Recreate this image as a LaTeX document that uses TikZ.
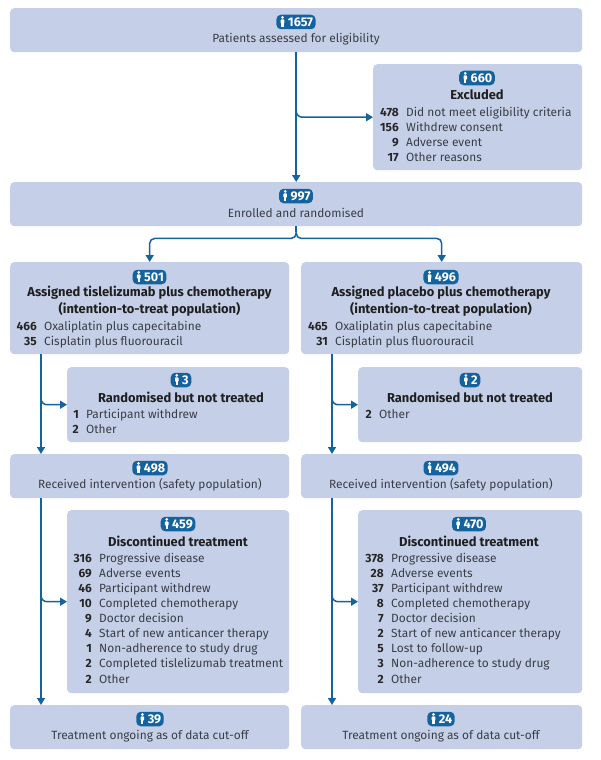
\documentclass[tikz,border=0pt]{standalone}
\usepackage{fontspec}
\setmainfont{Fira Sans}
\usetikzlibrary{arrows.meta,calc}
\definecolor{boxfill}{HTML}{C5D0E8}
\definecolor{navy}{HTML}{14639F}
\definecolor{ink}{HTML}{3A3D46}
\tikzset{
  bx/.style={fill=boxfill,rounded corners=4pt,inner sep=0pt,anchor=north west},
  badge/.style={fill=navy,text=white,rounded corners=4.5pt,font=\fontsize{12.6}{14}\selectfont\bfseries,inner xsep=2.5pt,inner ysep=0pt,minimum height=14.5pt},
  plain/.style={text=ink,font=\fontsize{11.9}{13}\selectfont,inner sep=0pt},
  head/.style={text=black!88,font=\fontsize{12.9}{14}\selectfont\bfseries,inner sep=0pt},
  numb/.style={text=black!85,font=\fontsize{11.9}{13}\selectfont\bfseries,inner sep=0pt},
  flow/.style={draw=navy,line width=1.5pt,-{Triangle[length=7pt,width=8pt]}},
  flowplain/.style={draw=navy,line width=1.5pt},
  person/.pic={\fill[white] (0,-4.6) circle (1.5);
    \fill[white,rounded corners=0.8pt] (-1.8,-2.6) rectangle (1.8,1.6);
    \fill[white] (-1.1,1) rectangle (1.1,5.2);}
}
% box: name, x1, y1, x2, y2
\newcommand{\bx}[5]{\node[bx,minimum width={(#4-#2)*1pt},minimum height={(#5-#3)*1pt}] (#1) at (#2,#3) {};}
% badge: name, cx, cy, number
\newcommand{\bdg}[4]{\node[badge] (#1) at (#2,#3) {\hspace{9pt}#4}; \pic at ($(#1.west)+(6.3,0)$) {person};}
% rows: name, number right edge, first y (centre), list
\newcommand{\rows}[4]{%
  \foreach \nn/\tt [count=\i from 0] in {#4} {
    \node[numb,anchor=base east] (#1n\i) at (#2,#3+15.1*\i+4.2) {\nn};
    \node[plain,anchor=base west] (#1t\i) at (#2+7,#3+15.1*\i+4.2) {\tt};
  }}
\begin{document}
\begin{tikzpicture}[x=1pt,y=-1pt]
\useasboundingbox (0,0) rectangle (600,760);
\fill[white] (0,0) rectangle (600,760);
% boxes
\bx{top}{10}{8}{582}{52}
\bx{excl}{373}{64}{582}{170}
\bx{enr}{10}{182}{582}{226}
\bx{armA}{10}{262}{289}{354}
\bx{armB}{301}{262}{582}{354}
\bx{rnA}{67}{367}{289}{442}
\bx{rnB}{358}{367}{582}{442}
\bx{recA}{10}{454}{289}{498}
\bx{recB}{301}{454}{582}{498}
\bx{disA}{67}{510}{289}{693}
\bx{disB}{358}{510}{582}{693}
\bx{ongA}{10}{705}{289}{749}
\bx{ongB}{301}{705}{582}{749}
% top
\bdg{btop}{296}{22}{1657}
\node[plain] (ttop) at (296,39) {Patients assessed for eligibility};
\bdg{bexcl}{477}{78}{660}
\node[head] (texcl) at (477,95) {Excluded};
\rows{lexcl}{399}{112}{478/Did not meet eligibility criteria,156/Withdrew consent,9/Adverse event,17/Other reasons}
\bdg{benr}{296}{196}{997}
\node[plain] (tenr) at (296,213) {Enrolled and randomised};
% arm A
\bdg{barmA}{149.5}{277}{501}
\node[head] (tarmA1) at (149.5,293) {Assigned tislelizumab plus chemotherapy};
\node[head] (tarmA2) at (149.5,309) {(intention-to-treat population)};
\rows{larmA}{37}{326}{466/Oxaliplatin plus capecitabine,35/Cisplatin plus fluorouracil}
\bdg{brnA}{181}{380}{3}
\node[head] (trnA) at (181,397) {Randomised but not treated};
\rows{lrnA}{79}{414}{1/Participant withdrew,2/Other}
\bdg{brecA}{150}{468}{498}
\node[plain] (trecA) at (150,485) {Received intervention (safety population)};
\bdg{bdisA}{178}{524}{459}
\node[head] (tdisA) at (178,541) {Discontinued treatment};
\rows{ldisA}{92}{558}{316/Progressive disease,69/Adverse events,46/Participant withdrew,10/Completed chemotherapy,9/Doctor decision,4/Start of new anticancer therapy,1/Non-adherence to study drug,2/Completed tislelizumab treatment,2/Other}
\bdg{bongA}{150}{719}{39}
\node[plain] (tongA) at (150,736) {Treatment ongoing as of data cut-off};
% arm B
\bdg{barmB}{441}{277}{496}
\node[head] (tarmB1) at (441,293) {Assigned placebo plus chemotherapy};
\node[head] (tarmB2) at (441,309) {(intention-to-treat population)};
\rows{larmB}{328}{326}{465/Oxaliplatin plus capecitabine,31/Cisplatin plus fluorouracil}
\bdg{brnB}{470}{380}{2}
\node[head] (trnB) at (470,397) {Randomised but not treated};
\rows{lrnB}{372}{414}{2/Other}
\bdg{brecB}{441}{468}{494}
\node[plain] (trecB) at (441,485) {Received intervention (safety population)};
\bdg{bdisB}{469}{524}{470}
\node[head] (tdisB) at (469,541) {Discontinued treatment};
\rows{ldisB}{384}{558}{378/Progressive disease,28/Adverse events,37/Participant withdrew,8/Completed chemotherapy,7/Doctor decision,2/Start of new anticancer therapy,5/Lost to follow-up,3/Non-adherence to study drug,2/Other}
\bdg{bongB}{441}{719}{24}
\node[plain] (tongB) at (441,736) {Treatment ongoing as of data cut-off};
% connectors
\coordinate (trA) at (41,0);
\coordinate (trB) at (332,0);
\draw[flow] (top.south) -- (enr.north);
\draw[flow,rounded corners=6pt] ($(excl.west -| top.south)+(0,-8)$) |- (excl.west);
\coordinate (split) at ($(enr.south)+(0,6)$);
\draw[flowplain] (enr.south) -- (split);
\draw[flow,rounded corners=5pt] (split) -- ($(split)+(0,6)$) -| (armA.north);
\draw[flow,rounded corners=5pt] (split) -- ($(split)+(0,6)$) -| (armB.north);
\draw[flow] (armA.south -| trA) -- (recA.north -| trA);
\draw[flow] (armB.south -| trB) -- (recB.north -| trB);
\draw[flow] (recA.south -| trA) -- (ongA.north -| trA);
\draw[flow] (recB.south -| trB) -- (ongB.north -| trB);
\draw[flow,rounded corners=6pt] ($(rnA.west -| trA)+(0,-8)$) |- (rnA.west);
\draw[flow,rounded corners=6pt] ($(rnB.west -| trB)+(0,-8)$) |- (rnB.west);
\draw[flow,rounded corners=6pt] ($(disA.west -| trA)+(0,-8)$) |- (disA.west);
\draw[flow,rounded corners=6pt] ($(disB.west -| trB)+(0,-8)$) |- (disB.west);
\end{tikzpicture}
\end{document}
